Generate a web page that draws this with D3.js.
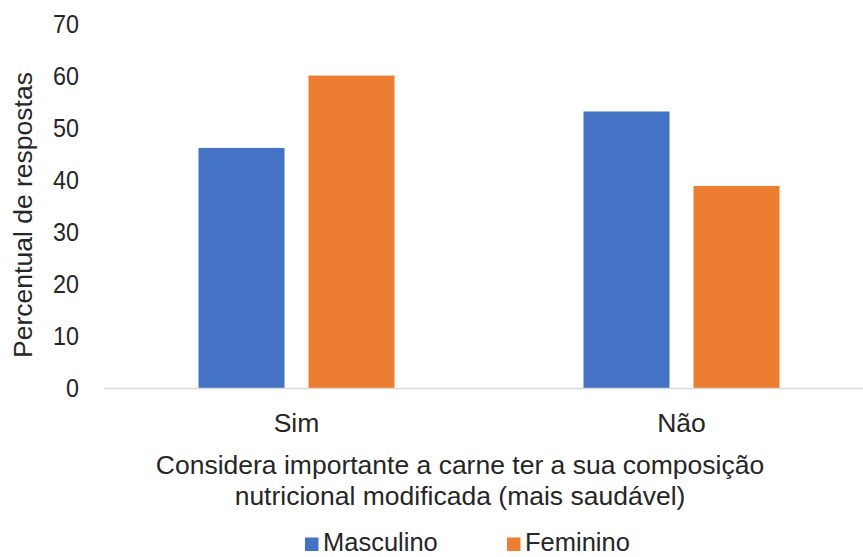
<!DOCTYPE html>
<html>
<head>
<meta charset="utf-8">
<script src="https://cdn.jsdelivr.net/npm/d3@7"></script>
<style>
  html, body { margin: 0; padding: 0; background: #fff; }
  svg { display: block; font-family: "Liberation Sans", Arial, sans-serif; }
  text { fill: #262626; }
</style>
</head>
<body>
<svg id="chart" width="863" height="557"></svg>
<script>
// Respostas por sexo (%)
const categories = ["Sim", "Não"];
const seriesNames = ["Masculino", "Feminino"];
const masculino = [46.2, 53.2];
const feminino = [60.1, 38.9];
const yTicks = [0, 10, 20, 30, 40, 50, 60, 70];
const colors = ["#4472C4", "#ED7D31"];
const yTitle = "Percentual de respostas";
const xTitleLines = ["Considera importante a carne ter a sua composição", "nutricional modificada (mais saudável)"];

const values = [masculino, feminino];
const rows = categories.map((c, i) => ({
  category: c,
  bars: seriesNames.map((s, j) => ({ series: s, value: values[j][i], color: colors[j] }))
}));

const svg = d3.select("#chart");
const W = 863, H = 557;
const plot = { left: 104, right: 874, top: 24, bottom: 388.5 };
const FONT = "Liberation Sans, Arial, sans-serif";

const x0 = d3.scaleBand().domain(categories).range([plot.left, plot.right]).padding(0);
const x1 = d3.scaleBand().domain(seriesNames).range([0, x0.bandwidth()])
  .paddingInner(24 / 110).paddingOuter(0.859);
const y = d3.scaleLinear().domain([0, 70]).range([plot.bottom, plot.top]);

// bars
const groups = svg.append("g").selectAll("g").data(rows).join("g")
  .attr("transform", d => `translate(${x0(d.category)},0)`);
groups.selectAll("rect").data(d => d.bars).join("rect")
  .attr("x", d => x1(d.series))
  .attr("width", x1.bandwidth())
  .attr("y", d => y(d.value))
  .attr("height", d => y(0) - y(d.value))
  .attr("fill", d => d.color);

// category axis line
svg.append("line")
  .attr("x1", plot.left).attr("x2", W)
  .attr("y1", y(0)).attr("y2", y(0))
  .attr("stroke", "#d9d9d9").attr("stroke-width", 1.5);

// y axis labels (narrow digits)
const yAxis = d3.axisLeft(y).tickValues(yTicks).tickSize(0).tickPadding(0);
const gy = svg.append("g").attr("transform", `translate(79,0)`).call(yAxis);
gy.select(".domain").remove();
gy.selectAll("text")
  .attr("font-size", 26.5).attr("fill", "#262626").attr("font-family", FONT)
  .attr("transform", "scale(0.88,1)");

// category labels
const xAxis = d3.axisBottom(x0).tickSize(0).tickPadding(0);
const gx = svg.append("g").attr("transform", `translate(0,413)`).call(xAxis);
gx.select(".domain").remove();
gx.selectAll("text").attr("font-size", 26.5).attr("fill", "#262626").attr("font-family", FONT);

// axis titles
svg.append("text")
  .attr("transform", `translate(32,215) rotate(-90)`)
  .attr("text-anchor", "middle")
  .attr("font-size", 26.5)
  .text(yTitle);

svg.selectAll("text.xtitle").data(xTitleLines).join("text")
  .attr("class", "xtitle")
  .attr("x", 460)
  .attr("y", (d, i) => 474 + i * 31)
  .attr("text-anchor", "middle")
  .attr("font-size", 26.5)
  .text(d => d);

// legend
const legend = svg.append("g").attr("transform", "translate(305,551)");
const legendX = [0, 202];
const li = legend.selectAll("g").data(seriesNames).join("g")
  .attr("transform", (d, i) => `translate(${legendX[i]},0)`);
li.append("rect").attr("x", 0).attr("y", -13.5).attr("width", 13.5).attr("height", 13.5)
  .attr("fill", (d, i) => colors[i]);
li.append("text").attr("x", 18).attr("y", 0).attr("font-size", 25.5).text(d => d);
</script>
</body>
</html>
